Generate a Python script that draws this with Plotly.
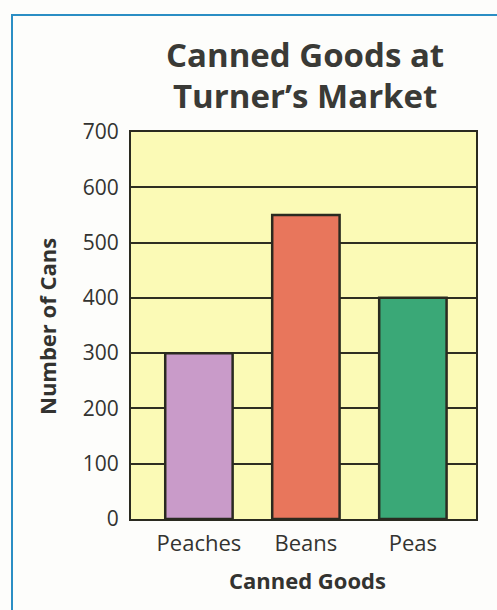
import plotly.graph_objects as go

categories = ["Peaches", "Beans", "Peas"]
cans = [300, 550, 400]
bar_colors = ["#c99bc9", "#e8765c", "#3aa877"]
y_ticks = [0, 100, 200, 300, 400, 500, 600, 700]

W, H = 497, 610
L, R, T, B = 131, 21, 132, 91
pw, ph = W - L - R, H - T - B

def px(x):
    return (x - L) / pw

def py(y):
    return (H - B - y) / ph

FONT = "Open Sans"
TXT = "#333330"

fig = go.Figure(go.Bar(
    x=categories, y=cans, width=0.63,
    marker=dict(color=bar_colors, line=dict(color="#2a2a20", width=2.5)),
))

def label(text, x, y, size, angle=0, color=TXT):
    return dict(text=text, xref="paper", yref="paper", x=px(x), y=py(y),
                xanchor="center", yanchor="middle", showarrow=False,
                textangle=angle, font=dict(family=FONT, size=size, color=color))

fig.update_layout(
    width=W, height=H,
    margin=dict(l=L, r=R, t=T, b=B),
    paper_bgcolor="#fdfdfb",
    plot_bgcolor="#fbfab6",
    showlegend=False,
    xaxis=dict(range=[-0.635, 2.59], showline=True, mirror=True,
               linecolor="#2a2a20", linewidth=2,
               tickfont=dict(family=FONT, size=22, color=TXT), ticks="",
               showgrid=False, ticklabelstandoff=4),
    yaxis=dict(range=[0, 700], tickvals=y_ticks, showline=True, mirror=True,
               linecolor="#2a2a20", linewidth=2, gridcolor="#2e2e22", gridwidth=2,
               tickfont=dict(family=FONT, size=21, color=TXT), ticks="",
               ticklabelstandoff=6, zeroline=False),
    shapes=[dict(type="rect", xref="paper", yref="paper",
                 x0=px(12), x1=px(520), y0=py(640), y1=py(15),
                 line=dict(color="#2b8ec4", width=2), layer="below")],
    annotations=[
        label("<b>Canned Goods at</b>", 305, 55, 33, color="#3a3a36"),
        label("<b>Turner’s Market</b>", 305, 95, 33, color="#3a3a36"),
        label("<b>Number of Cans</b>", 47, 327, 22, angle=-90),
        label("<b>Canned Goods</b>", 307, 580, 22),
    ],
)

fig.write_html("out.html")
